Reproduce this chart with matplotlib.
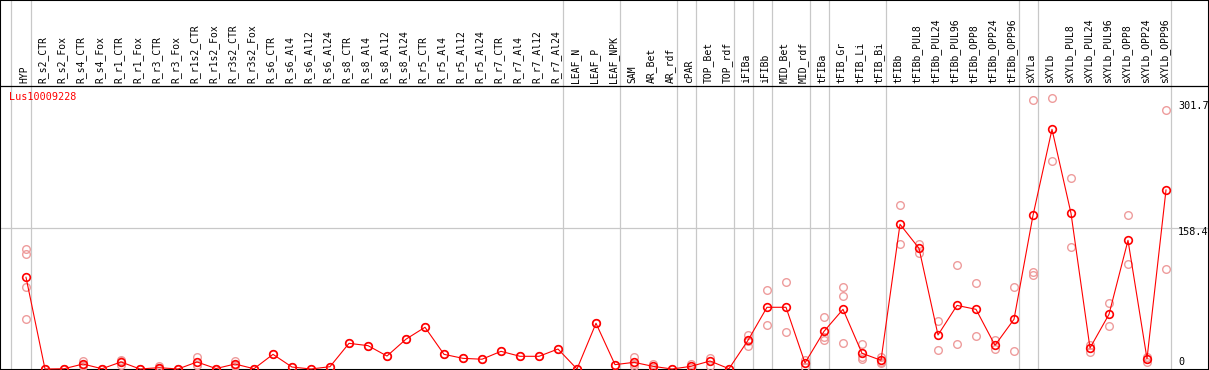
import numpy as np
import matplotlib
matplotlib.use("Agg")
import matplotlib.pyplot as plt

# sample names along the x axis
samples = ["HYP",
           "R_s2_CTR", "R_s2_Fox", "R_s4_CTR", "R_s4_Fox", "R_r1_CTR", "R_r1_Fox",
           "R_r3_CTR", "R_r3_Fox", "R_r1s2_CTR", "R_r1s2_Fox", "R_r3s2_CTR", "R_r3s2_Fox",
           "R_s6_CTR", "R_s6_Al4", "R_s6_Al12", "R_s6_Al24",
           "R_s8_CTR", "R_s8_Al4", "R_s8_Al12", "R_s8_Al24",
           "R_r5_CTR", "R_r5_Al4", "R_r5_Al12", "R_r5_Al24",
           "R_r7_CTR", "R_r7_Al4", "R_r7_Al12", "R_r7_Al24",
           "LEAF_N", "LEAF_P", "LEAF_NPK", "SAM", "AR_Bet", "AR_rdf", "cPAR",
           "TOP_Bet", "TOP_rdf", "iFIBa", "iFIBb", "MID_Bet", "MID_rdf",
           "tFIBa", "tFIB_Gr", "tFIB_Li", "tFIB_Bi", "tFIBb",
           "tFIBb_PUL8", "tFIBb_PUL24", "tFIBb_PUL96", "tFIBb_OPP8", "tFIBb_OPP24", "tFIBb_OPP96",
           "sXYLa", "sXYLb",
           "sXYLb_PUL8", "sXYLb_PUL24", "sXYLb_PUL96", "sXYLb_OPP8", "sXYLb_OPP24", "sXYLb_OPP96"]

# mean expression (red line)
means = [103.3, 0, 0.3, 5.6, 0.3, 7.9, 0, 1.5, 0, 7.9, 0.5, 5.6, 0.3,
         16.5, 2.2, 0, 2.6, 28.9, 26.3, 14.6, 33.6, 47, 16.5, 12, 11,
         19.9, 14.3, 14.3, 22.5, 0, 51.5, 4.9, 7.5, 3, 0, 3, 9, 0.3,
         32.3, 69.5, 69.5, 6.8, 42.4, 67.2, 17.7, 9.8, 163,
         135.9, 38.3, 71.6, 67.2, 26.7, 56, 173, 269.9,
         175.3, 23.6, 61.6, 144.9, 11.6, 201.6]

# individual replicates (faded circles)
replicates = [[135, 129.5, 92, 56], [0, 0], [0.5, 0.2], [8.6, 3.7, 4.5], [0.3, 0.2],
              [10, 5, 8.7], [0, 0], [3, 0.5, 1], [0, 0], [13.9, 5, 4.8], [0.5, 0.4],
              [8.6, 3.5, 4.7], [0.3, 0.2],
              [16.5], [2.2], [0], [2.6], [28.9], [26.3], [14.6], [33.6], [47], [16.5],
              [12], [11], [19.9], [14.3], [14.3], [22.5], [0], [51.5], [4.9],
              [13.2, 5.7, 3.8], [5.6, 1], [0], [6, 1.5], [12.7, 3], [0.3],
              [38.6, 32, 26.3], [89, 49.5], [98, 41.7], [10, 2.6], [58.6, 36.4, 32.7],
              [92, 81.8, 29.3], [28.2, 11.3, 13.6], [13.9, 7.9, 7], [184.3, 140.4],
              [141, 131], [53.7, 21], [116.8, 28.2], [96.5, 36.8], [32.3, 22.9], [92, 19.9],
              [302.6, 108.9, 106.2], [304.8, 233.9],
              [214.7, 137], [26.7, 19.5], [74, 48], [173, 117.9], [13.5, 8.2], [291.3, 112.2]]

# last sample index of each group (grey separators)
group_ends = [0, 28, 31, 34, 35, 37, 38, 39, 41, 42, 45, 52, 53, 60]
right_ticks = [301.7, 158.4, 0]

# pixel layout of the original picture
W, H = 1209, 370
X0_PX, DX_PX = 26, 19          # first sample position, spacing
Y0_PX, PX_PER_UNIT = 369, 0.888

def px_to_x(px):
    return (px - X0_PX) / DX_PX

def px_to_y(py):
    return (Y0_PX - py) / PX_PER_UNIT

fig = plt.figure(figsize=(W / 100, H / 100), dpi=100)
ax = fig.add_axes([0, 0, 1, 1])
ax.set_xlim(px_to_x(0), px_to_x(W))
ax.set_ylim(px_to_y(H), px_to_y(0))
ax.set_xticks([])
ax.set_yticks([])
for s in ax.spines.values():
    s.set_color("black")
    s.set_linewidth(1.5)

grey = "#c8c8c8"
ax.axvline(px_to_x(11), color=grey, lw=0.9, zorder=1)
for g in group_ends:
    ax.axvline(g + 0.24, color=grey, lw=0.9, zorder=1)
ax.axhline(158.4, color=grey, lw=0.9, zorder=1)
ax.axhline(px_to_y(85.7), color="black", lw=0.9, zorder=2)

x = np.arange(len(samples))
for i, reps in enumerate(replicates):
    ax.plot([i] * len(reps), reps, "o", ms=5.5, mfc="none", mec="#ee9c9c", mew=1.0, zorder=3)
ax.plot(x, means, "-", color="red", lw=0.8, zorder=4)
ax.plot(x, means, "o", ms=5.5, mfc="none", mec="red", mew=1.2, zorder=5)

mono = "DejaVu Sans Mono"
for i, name in enumerate(samples):
    ax.text(i - 0.1, px_to_y(83), name, rotation=90, ha="center", va="bottom",
            fontsize=7, family=mono, color="black")

ax.text(px_to_x(9), px_to_y(97), "Lus10009228", ha="left", va="center",
        fontsize=7.3, family=mono, color="red")

offsets = [-5, -4, 7]
for v, off in zip(right_ticks, offsets):
    ax.annotate(f"{v:g}", xy=(px_to_x(1178), v), xytext=(0, off), textcoords="offset pixels",
                ha="left", va="center", fontsize=7.3, family=mono, color="black")

fig.savefig("out.png", dpi=100)
